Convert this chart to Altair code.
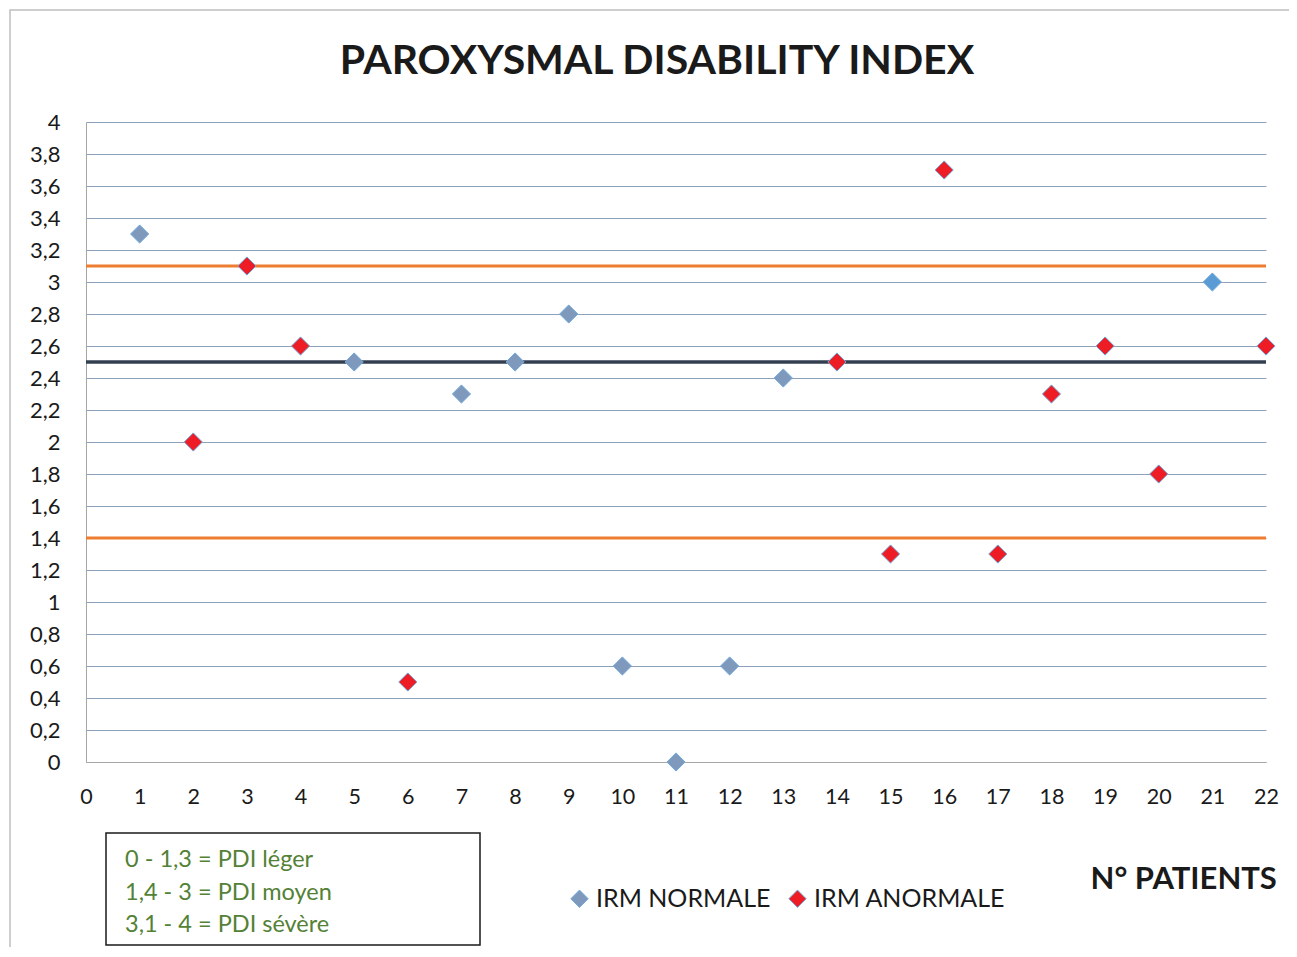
import altair as alt
import pandas as pd

# ---- data ----
normal_patients = [1, 5, 7, 8, 9, 10, 11, 12, 13, 21]
normal_pdi = [3.3, 2.5, 2.3, 2.5, 2.8, 0.6, 0.0, 0.6, 2.4, 3.0]
abnormal_patients = [2, 3, 4, 6, 14, 15, 16, 17, 18, 19, 20, 22]
abnormal_pdi = [2.0, 3.1, 2.6, 0.5, 2.5, 1.3, 3.7, 1.3, 2.3, 2.6, 1.8, 2.6]
group_names = ["IRM NORMALE", "IRM ANORMALE"]
threshold_values = [1.4, 3.1]      # orange limits (PDI léger / moyen / sévère)
mean_value = [2.5]                 # dark reference line
y_ticks = [0, 0.2, 0.4, 0.6, 0.8, 1, 1.2, 1.4, 1.6, 1.8, 2, 2.2, 2.4, 2.6, 2.8,
           3, 3.2, 3.4, 3.6, 3.8, 4]
x_ticks = list(range(0, 23))
legend_lines = ["0 - 1,3 = PDI léger", "1,4 - 3 = PDI moyen", "3,1 - 4 = PDI sévère"]
title_text = "PAROXYSMAL DISABILITY INDEX"
x_title = "N° PATIENTS"

pts = pd.DataFrame({
    "patient": normal_patients + abnormal_patients,
    "pdi": normal_pdi + abnormal_pdi,
    "group": [group_names[0]] * len(normal_patients) + [group_names[1]] * len(abnormal_patients),
})
thr = pd.DataFrame({"v": threshold_values})
mean_df = pd.DataFrame({"v": mean_value})
one = alt.Data(values=[{"k": 1}])

FONT = "Lato"
W, H = 1180, 640

x_scale = alt.Scale(domain=[0, 22], nice=False, zero=False)
y_scale = alt.Scale(domain=[0, 4], nice=False)

y_axis = alt.Axis(values=y_ticks, grid=True, gridColor="#8DA1BD", gridWidth=1.2,
                  ticks=False, domain=True, domainColor="#A6A6A6",
                  labelFontSize=22, labelFont=FONT, labelColor="#1a1a1a",
                  labelPadding=26, title=None, labelOverlap=False, labelFlush=False,
                  labelExpr="replace(toString(datum.value), '.', ',')")

points = alt.Chart(pts).mark_point(
    shape="diamond", filled=True, size=330, stroke="#6FA8DC", strokeWidth=1, opacity=1
).encode(
    x=alt.X("patient:Q", scale=x_scale,
            axis=alt.Axis(values=x_ticks, grid=False, ticks=False, domain=True,
                          domainColor="#A6A6A6", labelFontSize=21.5, labelFont=FONT,
                          labelColor="#1a1a1a", labelPadding=24, labelFlush=False,
                          labelOverlap=False,
                          title=x_title, titleFont=FONT, titleFontSize=31,
                          titleFontWeight="bold", titleColor="#1a1a1a",
                          titleX=1004, titleY=117, titleAlign="left",
                          titleBaseline="middle")),
    y=alt.Y("pdi:Q", scale=y_scale, axis=y_axis),
    fill=alt.condition(
        alt.datum.patient == 21,
        alt.value("#5B9BD5"),
        alt.Color("group:N", scale=alt.Scale(domain=group_names, range=["#7F99BD", "#EE1C25"]),
                  legend=alt.Legend(title=None, orient="none", legendX=481, legendY=764,
                                    direction="horizontal", symbolType="diamond",
                                    symbolSize=300, symbolStrokeColor="#6FA8DC",
                                    symbolStrokeWidth=1, labelFont=FONT, labelFontSize=25,
                                    labelColor="#1a1a1a", labelOffset=4, columnPadding=14,
                                    labelLimit=0, padding=0)),
    ),
)

orange = alt.Chart(thr).mark_rule(color="#ED7D31", strokeWidth=3).encode(
    y=alt.Y("v:Q", scale=y_scale, axis=y_axis))
dark = alt.Chart(mean_df).mark_rule(color="#333F50", strokeWidth=3.5).encode(
    y=alt.Y("v:Q", scale=y_scale, axis=y_axis))

title = alt.Chart(one).mark_text(
    font=FONT, fontSize=41, fontWeight="bold", color="#1a1a1a", align="center", baseline="middle"
).encode(x=alt.value(571), y=alt.value(-60), text=alt.value(title_text))

box = alt.Chart(one).mark_rect(fillOpacity=0, stroke="#1a1a1a", strokeWidth=1.5).encode(
    x=alt.value(20), x2=alt.value(394), y=alt.value(711), y2=alt.value(823))

box_text = alt.Chart(one).mark_text(
    font=FONT, fontSize=23.5, color="#538135", align="left", baseline="middle", lineHeight=32.5
).encode(x=alt.value(39), y=alt.value(738), text=alt.value(legend_lines))

frame = alt.Chart(one).mark_rect(fillOpacity=0, stroke="#BFBFBF", strokeWidth=1.5).encode(
    x=alt.value(-76), x2=alt.value(1400), y=alt.value(-112), y2=alt.value(1000))

chart = alt.layer(frame, orange, dark, points, title, box, box_text).properties(
    width=W, height=H,
    autosize=alt.AutoSizeParams(type="none"),
    padding={"left": 78, "top": 114, "right": 23, "bottom": 185},
).configure_view(stroke=None)

chart.save("out.html", embed_options={"renderer": "svg", "actions": False})
